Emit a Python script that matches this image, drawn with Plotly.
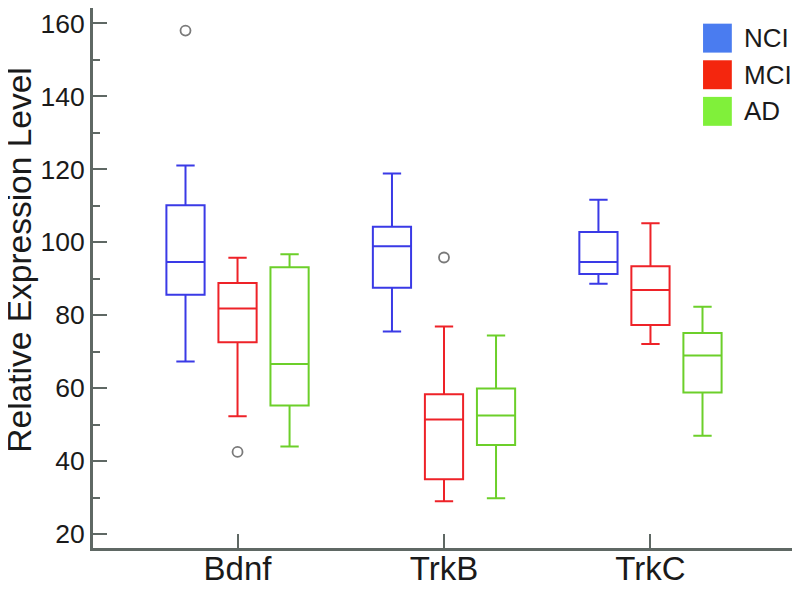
import plotly.graph_objects as go

categories = ["Bdnf", "TrkB", "TrkC"]
groups = ["NCI", "MCI", "AD"]

# precomputed box statistics per group, one value per category
nci_lower = [67.3, 75.5, 88.6]
nci_q1 = [85.6, 87.5, 91.3]
nci_median = [94.6, 98.9, 94.6]
nci_q3 = [110.1, 104.2, 102.8]
nci_upper = [121.0, 118.8, 111.6]

mci_lower = [52.3, 29.0, 72.1]
mci_q1 = [72.6, 35.0, 77.3]
mci_median = [81.8, 51.4, 86.9]
mci_q3 = [88.8, 58.3, 93.4]
mci_upper = [95.7, 76.9, 105.2]

ad_lower = [44.0, 29.8, 46.9]
ad_q1 = [55.2, 44.4, 58.8]
ad_median = [66.6, 52.5, 68.9]
ad_q3 = [93.1, 59.9, 75.1]
ad_upper = [96.7, 74.4, 82.3]

# outliers: (group, category, value)
outlier_group = ["NCI", "MCI", "MCI"]
outlier_category = ["Bdnf", "Bdnf", "TrkB"]
outlier_value = [158.0, 42.5, 95.8]

y_tick_values = [20, 40, 60, 80, 100, 120, 140, 160]
y_minor_values = [30, 50, 70, 90, 110, 130, 150]
y_title = "Relative Expression Level"

line_colors = ["#3a3ae6", "#ee2228", "#6ccf2a"]
legend_colors = ["#4a7cf0", "#f4260e", "#80f03a"]

stats = {
    "NCI": (nci_lower, nci_q1, nci_median, nci_q3, nci_upper),
    "MCI": (mci_lower, mci_q1, mci_median, mci_q3, mci_upper),
    "AD": (ad_lower, ad_q1, ad_median, ad_q3, ad_upper),
}

group_spacing = 0.252
box_width = 0.185
axis_color = "#5f6864"
text_color = "#1a1a1a"
font_family = "Liberation Sans, Arial, sans-serif"

fig = go.Figure()

for j, g in enumerate(groups):
    lo, q1, med, q3, up = stats[g]
    offset = (j - 1) * group_spacing
    xs = [i + offset for i in range(len(categories))]
    fig.add_trace(go.Box(
        x=xs, q1=q1, median=med, q3=q3, lowerfence=lo, upperfence=up,
        name=g, width=box_width, whiskerwidth=0.48,
        line=dict(color=line_colors[j], width=2),
        fillcolor="rgba(0,0,0,0)", boxpoints=False, showlegend=False,
        hoverinfo="y",
    ))

ox = [categories.index(c) + (groups.index(g) - 1) * group_spacing
      for g, c in zip(outlier_group, outlier_category)]
fig.add_trace(go.Scatter(
    x=ox, y=outlier_value, mode="markers", showlegend=False,
    marker=dict(symbol="circle-open", size=10, color="#7a7a7a",
                line=dict(width=1.8, color="#7a7a7a")),
))

# legend swatches
for j, g in enumerate(groups):
    top = 0.971 - j * 0.0678
    fig.add_shape(type="rect", xref="paper", yref="paper",
                  x0=0.869, x1=0.910, y0=top - 0.0536, y1=top,
                  fillcolor=legend_colors[j], line=dict(width=0))
    fig.add_annotation(xref="paper", yref="paper", x=0.924, y=top - 0.0268,
                       text=g, showarrow=False, xanchor="left", yanchor="middle",
                       font=dict(size=26, color=text_color, family=font_family))

# y-axis title
fig.add_annotation(xref="paper", yref="paper", x=-0.1047, y=0.533,
                   text=y_title, textangle=-90, showarrow=False,
                   xanchor="center", yanchor="middle",
                   font=dict(size=33.5, color=text_color, family=font_family))

# page body has an 8px margin: size the figure so the plot area sits where the reference has it
fig.update_layout(
    width=792, height=585,
    margin=dict(l=85, r=5, t=0, b=45),
    paper_bgcolor="white", plot_bgcolor="white",
    font=dict(family=font_family, color=text_color),
    showlegend=False,
)
fig.update_xaxes(
    range=[-0.7, 2.7], tickmode="array", tickvals=list(range(len(categories))),
    ticktext=categories, ticks="inside", ticklen=14, tickwidth=1.5,
    tickcolor=axis_color, showline=True, linecolor=axis_color, linewidth=3,
    showgrid=False, zeroline=False, tickfont=dict(size=33), automargin=False,
    ticklabelstandoff=-11,
)
fig.update_yaxes(
    range=[16.16, 164.2], tickmode="array", tickvals=y_tick_values,
    ticks="inside", ticklen=14, tickwidth=1.5, tickcolor=axis_color,
    showline=True, linecolor=axis_color, linewidth=3, showgrid=False, zeroline=False,
    tickfont=dict(size=26.5), automargin=False,
    minor=dict(tickvals=y_minor_values, ticks="inside", ticklen=7,
               tickwidth=1.5, tickcolor=axis_color, showgrid=False),
)

fig.write_html("out.html")
